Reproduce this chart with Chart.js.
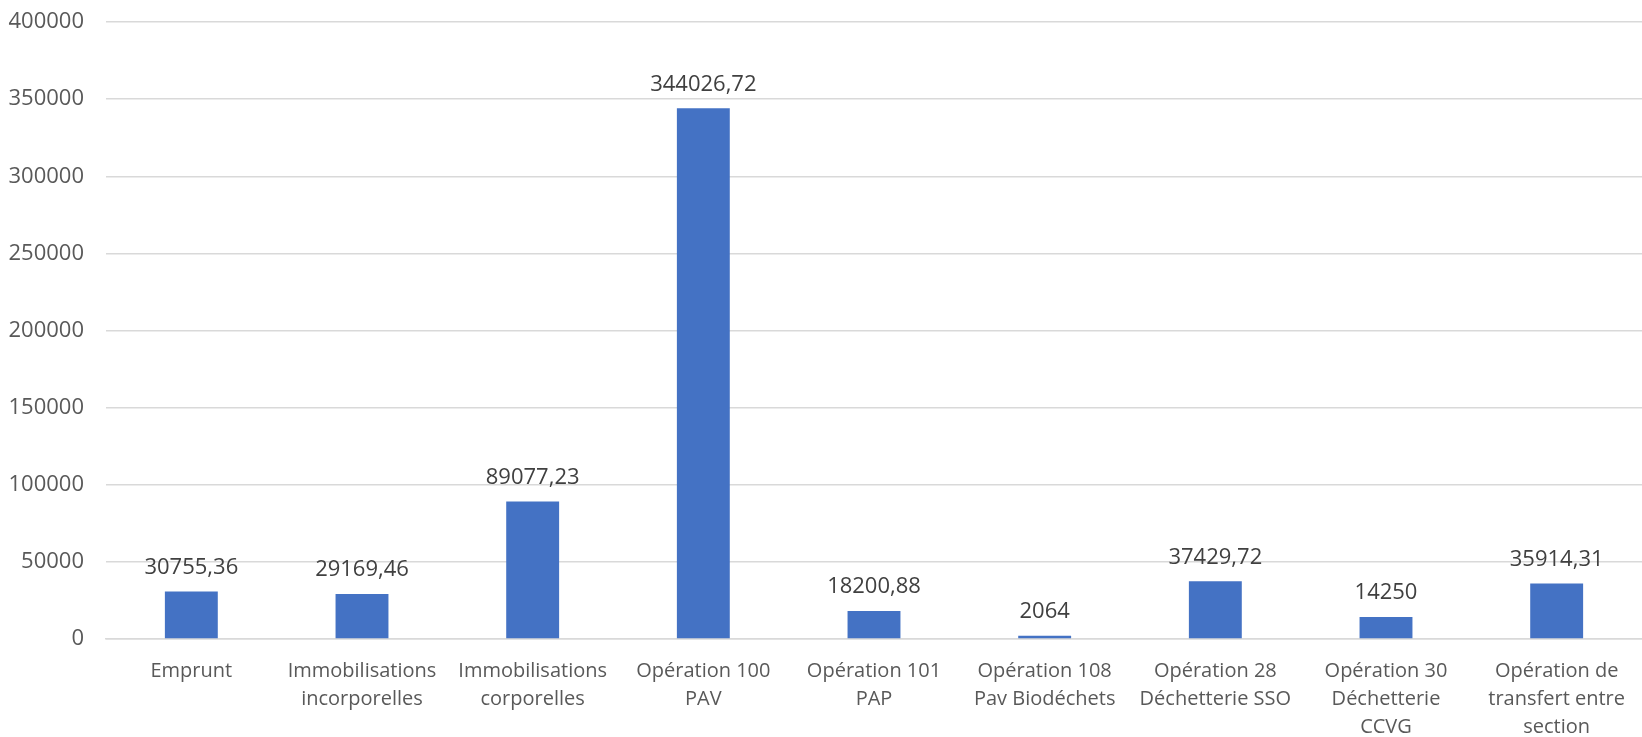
<!DOCTYPE html>
<html>
<head>
<meta charset="utf-8">
<script src="https://cdn.jsdelivr.net/npm/chart.js@4"></script>
<style>
  html, body { margin: 0; padding: 0; background: #fff; }
  #wrap { width: 1642px; height: 737px; }
</style>
</head>
<body>
<div id="wrap"><canvas id="chart"></canvas></div>
<script>
// categories (multi-line labels as shown under the axis)
const categories = [
    ["Emprunt"],
    ["Immobilisations", "incorporelles"],
    ["Immobilisations", "corporelles"],
    ["Opération 100", "PAV"],
    ["Opération 101", "PAP"],
    ["Opération 108", "Pav Biodéchets"],
    ["Opération 28", "Déchetterie SSO"],
    ["Opération 30", "Déchetterie", "CCVG"],
    ["Opération de", "transfert entre", "section"]
];
const values = [30755.36, 29169.46, 89077.23, 344026.72, 18200.88, 2064, 37429.72, 14250, 35914.31];
const yTicks = [0, 50000, 100000, 150000, 200000, 250000, 300000, 350000, 400000];

const FONT = "'Open Sans', sans-serif";

// draws the value above each bar, with a comma as decimal separator
const valueLabels = {
    id: 'valueLabels',
    afterDatasetsDraw(chart) {
        const ctx = chart.ctx;
        const meta = chart.getDatasetMeta(0);
        ctx.save();
        ctx.font = "22px " + FONT;
        ctx.fillStyle = "#404040";
        ctx.textAlign = "center";
        ctx.textBaseline = "middle";
        meta.data.forEach((bar, i) => {
            const txt = String(values[i]).replace('.', ',');
            ctx.fillText(txt, bar.x, bar.y - 24);
        });
        ctx.restore();
    }
};

const ctx = document.getElementById("chart").getContext("2d");
new Chart(ctx, {
    type: 'bar',
    data: {
        labels: categories,
        datasets: [{
            data: values,
            backgroundColor: "#4472C4",
            borderWidth: 0,
            barPercentage: 0.31,
            categoryPercentage: 1.0
        }]
    },
    options: {
        responsive: true,
        maintainAspectRatio: false,
        animation: false,
        layout: { padding: { top: 22, right: 0, bottom: 0, left: 0 } },
        plugins: {
            legend: { display: false },
            tooltip: { enabled: false }
        },
        scales: {
            x: {
                grid: { display: false, drawTicks: false },
                border: { display: true, color: "#D9D9D9", width: 1.5 },
                ticks: {
                    autoSkip: false,
                    maxRotation: 0,
                    minRotation: 0,
                    padding: 18,
                    color: "#595959",
                    font: { family: FONT, size: 20, lineHeight: 1.4 }
                },
                afterFit(scale) {
                    scale.height = 98;
                    scale.paddingTop = 0;
                    scale.paddingBottom = 0;
                    scale.paddingLeft = 0;
                    scale.paddingRight = 0;
                }
            },
            y: {
                min: 0,
                max: 400000,
                afterBuildTicks(scale) { scale.ticks = yTicks.map(v => ({ value: v })); },
                grid: { color: "#D9D9D9", lineWidth: 1.5, drawTicks: false },
                border: { display: false },
                ticks: {
                    padding: 22,
                    color: "#595959",
                    font: { family: FONT, size: 22 },
                    callback: (v) => String(v)
                },
                afterFit(scale) {
                    scale.width = 106;
                    scale.paddingTop = 0;
                    scale.paddingBottom = 0;
                }
            }
        }
    },
    plugins: [valueLabels]
});
</script>
</body>
</html>
